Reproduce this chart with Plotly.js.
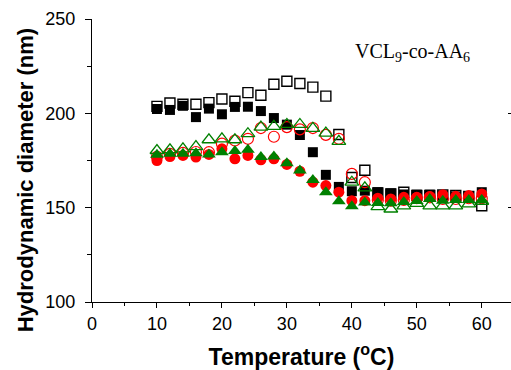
<!DOCTYPE html>
<html>
<head>
<meta charset="utf-8">
<script src="https://cdn.plot.ly/plotly-3.0.1.min.js"></script>
<style>html,body{margin:0;padding:0;background:#fff;}#chart{width:511px;height:370px;}</style>
</head>
<body>
<div id="chart"></div>
<script>
// Temperature (°C)
const temps = [10,12,14,16,18,20,22,24,26,28,30,32,34,36,38,40,42,44,46,48,50,52,54,56,58,60];
// Hydrodynamic diameter (nm) per series
const filledSquare = [202.3,201.8,204,198,202.5,199.5,203.4,203.5,201.2,197.5,194,188.5,179.4,167.4,161,158.7,159,158.2,157.6,157,156.9,156.9,156.5,156,156,158.2];
const openSquare   = [203.7,205.5,204.8,204.8,205.7,207.6,206.4,211,209.6,215.4,217,215.8,213.9,209.1,188.8,166,169.8,157.8,157.3,158.2,156.5,156.5,156.8,156.5,156,151];
const filledCircle = [175,177.1,177.7,176.8,178.2,181.2,175.9,177.7,175.4,175.9,172.9,169.3,163.5,161.7,158.2,153.7,153.7,155,154.6,155.5,155.5,155.9,156.9,156,156.4,157.3];
const openCircle   = [177,178.5,179,179.5,179.4,183.9,185.6,186.5,192.2,187.6,192.7,191.5,192.2,188.6,186.5,167.9,163.5,154.1,153.7,154.1,155,155.5,154.6,154.6,155,155];
const filledTri    = [178,178.6,178.6,178.9,178.2,179.4,180,180.7,176.8,177.1,173.6,169.7,164.7,158.2,153.4,150.7,152.8,152.5,152.3,153,153.5,154.6,153.7,154,154,154];
const openTri      = [180.3,180.7,181.2,182.4,186,186.5,186,189.2,192.7,193.1,194.1,194.1,192,189.5,185.1,163.5,160.5,150.5,149.3,151,152.3,151,151,151,152,153.4];
const xTicks = [0,10,20,30,40,50,60];
const yTicks = [100,150,200,250];
const sampleLabel = 'VCL<sub>9</sub>-co-AA<sub>6</sub>';
const xTitle = 'Temperature (<sup>o</sup>C)';
const yTitle = 'Hydrodynamic diameter (nm)';

function tr(y, symbol, color, size, lw) {
  return {x: temps, y: y, type: 'scatter', mode: 'markers', showlegend: false, hoverinfo: 'skip',
    marker: {symbol: symbol, size: size, color: color, line: {color: color, width: lw}}};
}
const data = [
  tr(filledSquare, 'square', '#000000', 10, 0),
  tr(openSquare, 'square-open', '#000000', 10, 1.4),
  tr(filledCircle, 'circle', '#ff0000', 11, 0),
  tr(openCircle, 'circle-open', '#ff0000', 11, 1.2),
  tr(filledTri, 'triangle-up', '#008000', 12, 0),
  tr(openTri, 'triangle-up-open', '#008000', 12, 1.3)
];
const tickFont = {family: 'Arial, Liberation Sans, sans-serif', size: 18, color: '#000'};
const layout = {
  width: 511, height: 370,
  margin: {l: 92, r: 0, t: 19, b: 68, pad: 0},
  paper_bgcolor: '#fff', plot_bgcolor: '#fff',
  xaxis: {range: [0, 64.5], tickmode: 'array', tickvals: xTicks, ticks: 'outside', ticklen: 5, tickwidth: 1,
    tickcolor: '#000', showline: true, linecolor: '#000', linewidth: 1, showgrid: false, zeroline: false,
    minor: {ticks: 'outside', ticklen: 3, tickwidth: 1, tickcolor: '#000', dtick: 5, tick0: 0, showgrid: false},
    tickfont: tickFont,
    title: {text: xTitle, font: {family: 'Arial, Liberation Sans, sans-serif', size: 23, color: '#000', weight: 'bold'}, standoff: 18}},
  yaxis: {range: [100, 250], tickmode: 'array', tickvals: yTicks, ticks: 'outside', ticklen: 6, tickwidth: 1,
    tickcolor: '#000', showline: true, linecolor: '#000', linewidth: 1, showgrid: false, zeroline: false,
    minor: {ticks: 'outside', ticklen: 4, tickwidth: 1, tickcolor: '#000', dtick: 25, tick0: 100, showgrid: false},
    tickfont: tickFont, ticklabelstandoff: 6},
  yaxis2: {range: [100, 250], overlaying: 'y', side: 'right', tickmode: 'array', tickvals: [150, 200], ticks: 'inside',
    ticklen: 3, tickcolor: '#000', showticklabels: false, showline: false, showgrid: false, zeroline: false},
  annotations: [
    {text: yTitle, textangle: -90, xref: 'paper', yref: 'paper', x: -0.16, y: 0.43, xanchor: 'center', yanchor: 'middle',
      showarrow: false, font: {family: 'Arial, Liberation Sans, sans-serif', size: 22, color: '#000', weight: 'bold'}},
    {text: sampleLabel, xref: 'x', yref: 'y', x: 49.3, y: 232.4, xanchor: 'center', yanchor: 'middle', showarrow: false,
      font: {family: 'Times New Roman, Liberation Serif, serif', size: 20, color: '#000'}}
  ]
};
data.push({x: [0], y: [100], yaxis: 'y2', type: 'scatter', mode: 'none', showlegend: false, hoverinfo: 'skip'});
Plotly.newPlot('chart', data, layout, {displayModeBar: false, staticPlot: true});
</script>
</body>
</html>
